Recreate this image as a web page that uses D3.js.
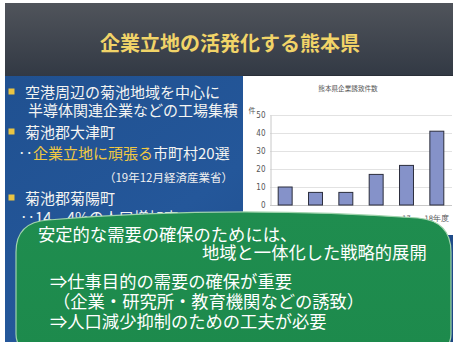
<!DOCTYPE html>
<html>
<head>
<meta charset="utf-8">
<script src="https://cdn.jsdelivr.net/npm/d3@7"></script>
<style>
  html, body { margin: 0; padding: 0; background: #fff; }
  svg { display: block; }
</style>
</head>
<body>
<svg id="slide" width="453" height="342"></svg>
<script>
// 熊本県企業誘致件数（年度別）
const years = ["13", "14", "15", "16", "17", "18年度"];
const counts = [10, 7, 7, 17, 22, 41];
const yTicks = [0, 10, 20, 30, 40, 50];

const bullets = [
  { y: 92, parts: [{ t: "空港周辺の菊池地域を中心に", c: "w" }], x: 25, bullet: true },
  { y: 110, parts: [{ t: "半導体関連企業などの工場集積", c: "w" }], x: 28 },
  { y: 132, parts: [{ t: "菊池郡大津町", c: "w" }], x: 25, bullet: true },
  { y: 153, parts: [{ t: "‥", c: "w" }, { t: "企業立地に頑張る", c: "y" }, { t: "市町村20選", c: "w" }], x: 18 },
  { y: 198, parts: [{ t: "菊池郡菊陽町", c: "w" }], x: 25, bullet: true },
  { y: 217, parts: [{ t: "‥14．4%の人口増加率", c: "w" }], x: 20 }
];
const sourceNote = "（19年12月経済産業省）";

const boxLines = [
  { t: "安定的な需要の確保のためには、", x: 38, y: 235 },
  { t: "地域と一体化した戦略的展開", x: 202, y: 253 },
  { t: "⇒仕事目的の需要の確保が重要", x: 50, y: 282 },
  { t: "（企業・研究所・教育機関などの誘致）", x: 53, y: 302 },
  { t: "⇒人口減少抑制のための工夫が必要", x: 50, y: 322 }
];

const JP = "'Noto Sans CJK JP', 'Noto Sans', sans-serif";
const svg = d3.select("#slide");
const defs = svg.append("defs");

const gTitle = defs.append("linearGradient").attr("id", "titleBand").attr("x1", 0).attr("y1", 0).attr("x2", 0).attr("y2", 1);
gTitle.append("stop").attr("offset", 0).attr("stop-color", "#50545b");
gTitle.append("stop").attr("offset", 1).attr("stop-color", "#323944");

const gBody = defs.append("linearGradient").attr("id", "bodyBand").attr("x1", 0).attr("y1", 0).attr("x2", 1).attr("y2", 1);
gBody.append("stop").attr("offset", 0).attr("stop-color", "#1f4f8e");
gBody.append("stop").attr("offset", 0.5).attr("stop-color", "#24579a");
gBody.append("stop").attr("offset", 1).attr("stop-color", "#1c4682");

const gGreen = defs.append("linearGradient").attr("id", "greenBox").attr("x1", 0).attr("y1", 0).attr("x2", 0).attr("y2", 1);
gGreen.append("stop").attr("offset", 0).attr("stop-color", "#1f8d4f");
gGreen.append("stop").attr("offset", 1).attr("stop-color", "#1d8a4c");

// slide background
svg.append("rect").attr("x", 5).attr("y", 3).attr("width", 448).attr("height", 339).attr("fill", "url(#bodyBand)");
svg.append("rect").attr("x", 5).attr("y", 3).attr("width", 448).attr("height", 73).attr("fill", "url(#titleBand)");

// title
svg.append("text")
  .attr("x", 230).attr("y", 50.5)
  .attr("text-anchor", "middle")
  .attr("font-family", JP).attr("font-size", 20).attr("font-weight", "bold")
  .attr("fill", "#f1d468")
  .text("企業立地の活発化する熊本県");

// bullet list
bullets.forEach(b => {
  if (b.bullet) {
    svg.append("rect").attr("x", 8.5).attr("y", b.y - 3.5).attr("width", 6).attr("height", 6).attr("fill", "#e9c443");
  }
  const t = svg.append("text")
    .attr("x", b.x).attr("y", b.y + 5.6)
    .attr("font-family", JP).attr("font-size", 15);
  b.parts.forEach(p => {
    t.append("tspan").attr("fill", p.c === "y" ? "#f0c842" : "#f4f4f2").text(p.t);
  });
});
svg.append("text")
  .attr("x", 233).attr("y", 182)
  .attr("text-anchor", "end")
  .attr("font-family", JP).attr("font-size", 11.5)
  .attr("fill", "#f0f0f0")
  .text(sourceNote);

// chart panel
const panel = svg.append("g");
panel.append("rect").attr("x", 243).attr("y", 75).attr("width", 210).attr("height", 160).attr("fill", "#ffffff");
panel.append("line").attr("x1", 243).attr("x2", 453).attr("y1", 75.5).attr("y2", 75.5).attr("stroke", "#2a2f38").attr("stroke-width", 1);

const NUM = "'Liberation Sans Narrow', 'DejaVu Sans Condensed', sans-serif";
const x = d3.scaleBand().domain(years).range([270, 452]).paddingInner(0.54).paddingOuter(0.27);
const y = d3.scaleLinear().domain([0, 50]).range([205, 115]);

panel.append("text")
  .attr("x", 348).attr("y", 90.5)
  .attr("text-anchor", "middle")
  .attr("font-family", JP).attr("font-size", 6.6).attr("fill", "#555")
  .text("熊本県企業誘致件数");
panel.append("text")
  .attr("x", 252).attr("y", 112.5)
  .attr("text-anchor", "middle")
  .attr("font-family", JP).attr("font-size", 7).attr("fill", "#555")
  .text("件");

// grid
panel.append("g").selectAll("line").data(yTicks.filter(d => d > 0)).join("line")
  .attr("x1", 270).attr("x2", 452)
  .attr("y1", d => y(d) + 0.5).attr("y2", d => y(d) + 0.5)
  .attr("stroke", "#e2e2e2").attr("stroke-width", 1);

const yAxis = panel.append("g")
  .attr("transform", "translate(270.5,0)")
  .call(d3.axisLeft(y).tickValues(yTicks).tickSize(0).tickPadding(5));
yAxis.select(".domain").attr("stroke", "#c8c8c8");
yAxis.selectAll("text").attr("font-family", NUM).attr("font-size", 8).attr("fill", "#555");

panel.append("line").attr("x1", 270).attr("x2", 452).attr("y1", 205.5).attr("y2", 205.5).attr("stroke", "#c8c8c8");

const xAxis = panel.append("g")
  .attr("transform", "translate(0,205)")
  .call(d3.axisBottom(x).tickSize(0).tickPadding(11));
xAxis.select(".domain").remove();
xAxis.selectAll("text").attr("font-family", NUM).attr("font-size", 7.5).attr("fill", "#555");

panel.append("g").selectAll("rect").data(counts).join("rect")
  .attr("x", (d, i) => x(years[i]))
  .attr("y", d => y(d))
  .attr("width", x.bandwidth())
  .attr("height", d => y(0) - y(d))
  .attr("fill", "#8592c9")
  .attr("stroke", "#2b2d3c")
  .attr("stroke-width", 1);

// green message box
const box = d3.path();
box.moveTo(16, 252);
box.quadraticCurveTo(16, 222, 48, 220);
box.quadraticCurveTo(230, 205, 418, 218);
box.quadraticCurveTo(451, 221, 451, 252);
box.lineTo(451, 334);
box.quadraticCurveTo(451, 350, 435, 350);
box.lineTo(32, 350);
box.quadraticCurveTo(16, 350, 16, 334);
box.closePath();
svg.append("path").attr("d", box.toString())
  .attr("fill", "url(#greenBox)")
  .attr("stroke", "#9fd3ac").attr("stroke-width", 1.2);

svg.append("g").selectAll("text").data(boxLines).join("text")
  .attr("x", d => d.x).attr("y", d => d.y + 6.4)
  .attr("font-family", JP).attr("font-size", 17.3)
  .attr("fill", "#ffffff")
  .text(d => d.t);
</script>
</body>
</html>
